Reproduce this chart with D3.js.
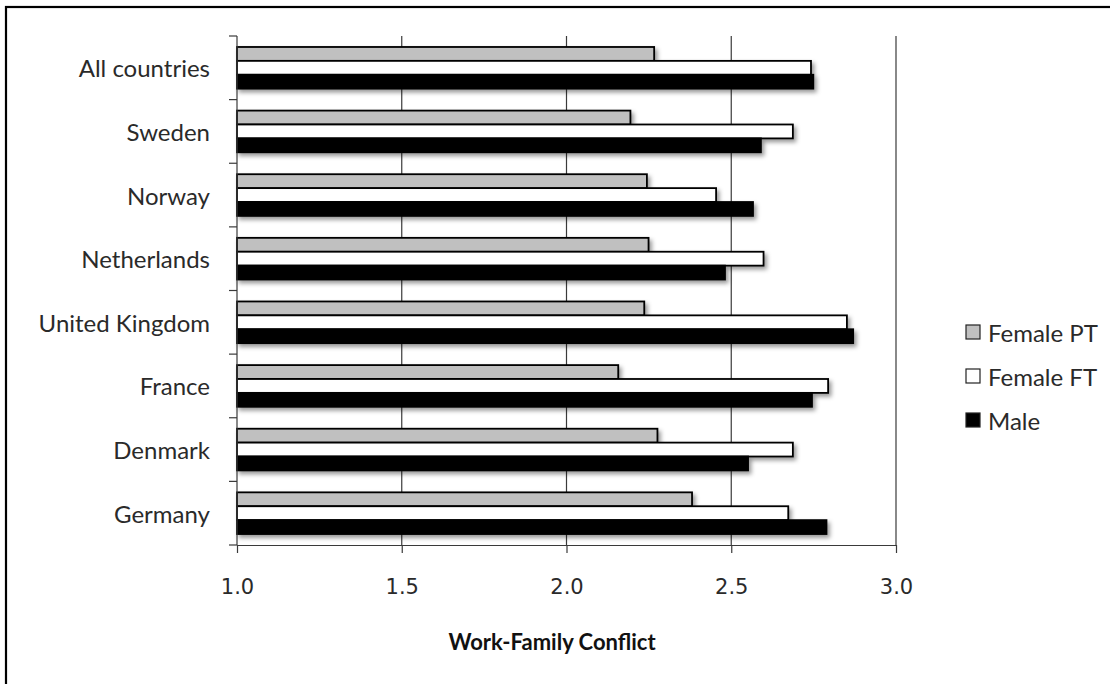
<!DOCTYPE html>
<html>
<head>
<meta charset="utf-8">
<script src="https://cdn.jsdelivr.net/npm/d3@7"></script>
<style>
  html, body { margin: 0; padding: 0; background: #fff; }
  svg { display: block; }
</style>
</head>
<body>
<svg id="chart" width="1110" height="684"></svg>
<script>
// ---- data ----
const categories = ["All countries", "Sweden", "Norway", "Netherlands", "United Kingdom", "France", "Denmark", "Germany"];
const seriesNames = ["Female PT", "Female FT", "Male"];
const femalePT = [2.266, 2.194, 2.244, 2.249, 2.236, 2.157, 2.276, 2.381];
const femaleFT = [2.742, 2.687, 2.454, 2.598, 2.851, 2.794, 2.687, 2.673];
const male     = [2.749, 2.590, 2.566, 2.481, 2.870, 2.745, 2.551, 2.789];
const xTicks = [1.0, 1.5, 2.0, 2.5, 3.0];
const xTitle = "Work-Family Conflict";
const seriesFill = ["#c0c0c0", "#ffffff", "#000000"];

const seriesValues = [femalePT, femaleFT, male];

const svg = d3.select("#chart");
const plot = { left: 237, right: 896, top: 36, bottom: 545 };

// defs: shadow
const defs = svg.append("defs");
const f = defs.append("filter").attr("id", "shadow")
  .attr("x", "-5%").attr("y", "-10%").attr("width", "115%").attr("height", "130%");
f.append("feDropShadow").attr("dx", 2.5).attr("dy", 3).attr("stdDeviation", 2)
  .attr("flood-color", "#000").attr("flood-opacity", 0.4);

// outer chart border (cut off at right/bottom)
svg.append("rect").attr("x", 6).attr("y", 7).attr("width", 1200).attr("height", 800)
  .attr("fill", "none").attr("stroke", "#000").attr("stroke-width", 2.2);

const x = d3.scaleLinear().domain([1, 3]).range([plot.left, plot.right]);
const y = d3.scaleBand().domain(categories).range([plot.top, plot.bottom])
  .paddingInner(0).paddingOuter(0);
const inner = d3.scaleBand().domain(seriesNames).range([0, y.bandwidth()])
  .paddingOuter(0.79).paddingInner(0);

// gridlines
svg.append("g").selectAll("line").data(xTicks.filter(d => d > 1)).join("line")
  .attr("x1", d => x(d)).attr("x2", d => x(d))
  .attr("y1", plot.top).attr("y2", plot.bottom)
  .attr("stroke", "#3a3a3a").attr("stroke-width", 1.2);

// bars
const rows = [];
categories.forEach((c, i) => seriesNames.forEach((s, j) => rows.push({ c, s, j, v: seriesValues[j][i] })));
svg.append("g").attr("filter", "url(#shadow)").selectAll("rect").data(rows).join("rect")
  .attr("x", x(1))
  .attr("y", d => y(d.c) + inner(d.s))
  .attr("width", d => x(d.v) - x(1))
  .attr("height", inner.bandwidth())
  .attr("fill", d => seriesFill[d.j])
  .attr("stroke", "#000").attr("stroke-width", 1.8);

// x axis
const xAxis = d3.axisBottom(x).tickValues(xTicks).tickFormat(d3.format(".1f")).tickSizeInner(8).tickSizeOuter(0).tickPadding(26);
const gx = svg.append("g").attr("transform", `translate(0,${plot.bottom})`).call(xAxis);
gx.select(".domain").attr("stroke", "#3a3a3a").attr("stroke-width", 1.2);
gx.selectAll(".tick line").attr("stroke", "#3a3a3a").attr("stroke-width", 1.2);
gx.selectAll("text").attr("font-family", "DejaVu Sans").attr("font-size", 21).attr("fill", "#2a2a2a");

// y axis: ticks at band boundaries
const gy = svg.append("g");
gy.append("line").attr("x1", plot.left).attr("x2", plot.left).attr("y1", plot.top).attr("y2", plot.bottom)
  .attr("stroke", "#3a3a3a").attr("stroke-width", 1.2);
const bounds = categories.map(c => y(c)).concat([plot.bottom]);
gy.selectAll("line.tk").data(bounds).join("line").attr("class", "tk")
  .attr("x1", plot.left - 8).attr("x2", plot.left).attr("y1", d => d).attr("y2", d => d)
  .attr("stroke", "#3a3a3a").attr("stroke-width", 1.2);
gy.selectAll("text").data(categories).join("text")
  .attr("x", 210).attr("y", d => y(d) + y.bandwidth() / 2)
  .attr("text-anchor", "end").attr("dominant-baseline", "central")
  .attr("font-family", "Lato").attr("font-size", 24).attr("fill", "#2a2a2a")
  .text(d => d);

// x title
svg.append("text").attr("x", 552).attr("y", 641).attr("text-anchor", "middle")
  .attr("dominant-baseline", "central")
  .attr("font-family", "Lato").attr("font-weight", "bold").attr("font-size", 22).attr("fill", "#111")
  .text(xTitle);

// legend
const lg = svg.append("g").selectAll("g").data(seriesNames).join("g")
  .attr("transform", (d, i) => `translate(966,${332 + i * 44})`);
lg.append("rect").attr("x", 0).attr("y", -7).attr("width", 14).attr("height", 14)
  .attr("fill", (d, i) => seriesFill[i]).attr("stroke", "#222").attr("stroke-width", 1.2);
lg.append("text").attr("x", 22).attr("y", 0).attr("dominant-baseline", "central")
  .attr("font-family", "Lato").attr("font-size", 24).attr("fill", "#2a2a2a").text(d => d);
</script>
</body>
</html>
